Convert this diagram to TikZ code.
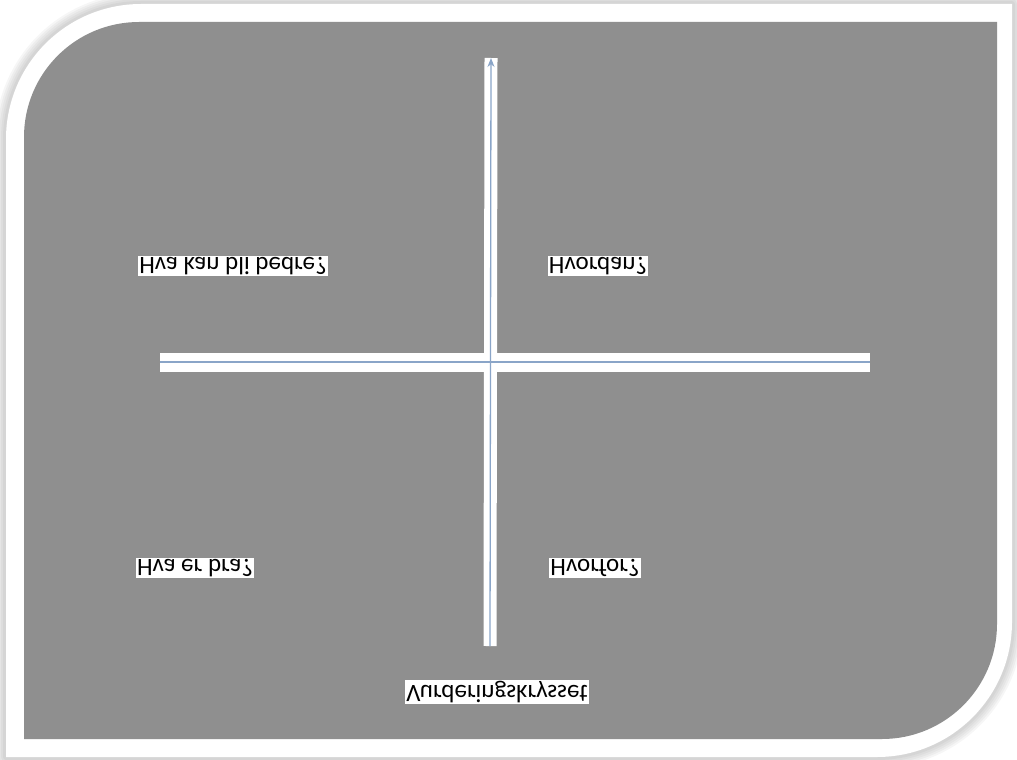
\documentclass[tikz,border=0pt]{standalone}
\usepackage{fontspec}
\setmainfont{Carlito}
\usetikzlibrary{arrows.meta}
\definecolor{panelgray}{RGB}{143,143,143}
\definecolor{axisblue}{RGB}{138,165,200}
\newcommand{\upside}[1]{\scalebox{1}[-1]{#1}}
\tikzset{
  label/.style={fill=white,text=black,inner sep=1pt,font=\fontsize{25}{30}\selectfont},
  band/.style={white,line width=19pt},
  axisline/.style={axisblue,line width=1.3pt}
}
\begin{document}
\begin{tikzpicture}[x=1pt,y=-1pt,line cap=butt]
\useasboundingbox (0,0) rectangle (1017,760);
% soft shadow round the frame
\foreach \w in {22,18,14,10,6}
  \draw[black,opacity=0.035,line width=\w pt,line join=round]
    (6,757) -- (6,139) arc (180:270:135) -- (1012,4) -- (1012,622) arc (0:90:135) -- cycle;
% white frame
\fill[white] (6,757) -- (6,139) arc (180:270:135) -- (1012,4) -- (1012,622) arc (0:90:135) -- cycle;
% gray panel
\fill[panelgray] (24,739) -- (24,137) arc (180:270:115) -- (997,22) -- (997,624) arc (0:90:115) -- cycle;
% axes
\coordinate (west) at (160,362);
\coordinate (east) at (870,362);
\coordinate (north) at (491,58);
\coordinate (south) at (490,646);
\draw[band] (west) -- (east);
\draw[white,line width=13pt] (south) -- (north);
\draw[axisline] (west) -- (east);
\draw[axisline,-{Stealth[length=9pt,width=7pt]}] (south) -- (north);
% labels, printed upside down
\node[label] (better) at (233,266) {\upside{Hva kan bli bedre?}};
\node[label] (how) at (598,266) {\upside{Hvordan?}};
\node[label] (good) at (195,568) {\upside{Hva er bra?}};
\node[label] (why) at (595,568) {\upside{Hvorfor?}};
\node[label] (title) at (497,692) {\upside{Vurderingskrysset}};
\end{tikzpicture}
\end{document}
